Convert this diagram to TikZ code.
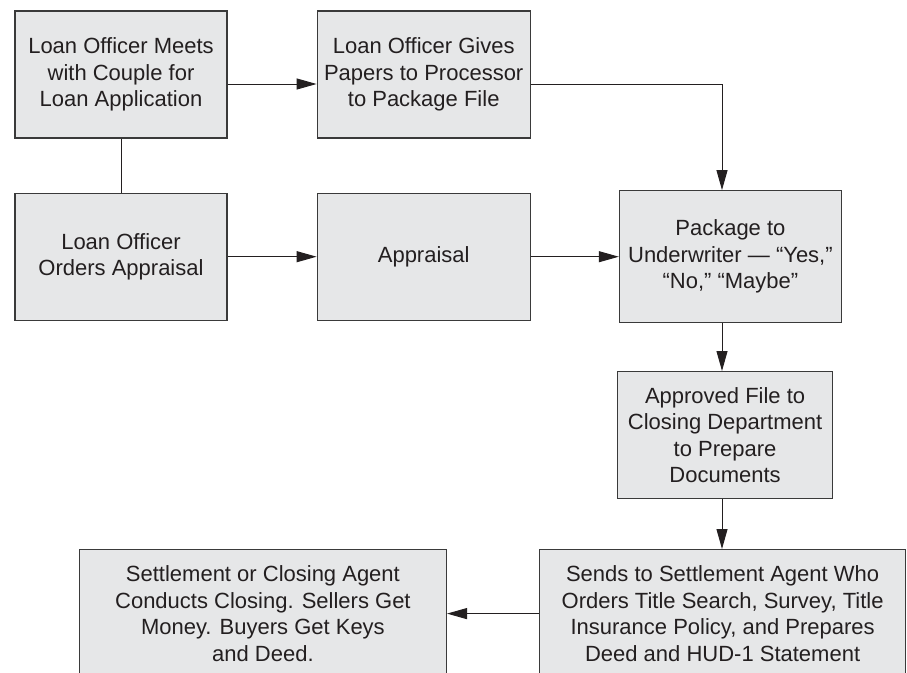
\documentclass[tikz,border=0pt]{standalone}
\usepackage{fontspec}
\setmainfont{Liberation Sans}
\usetikzlibrary{arrows.meta, positioning}
\definecolor{boxfill}{HTML}{E6E7E8}
\definecolor{boxline}{HTML}{3A3A3A}
\definecolor{ink}{HTML}{231F20}

\begin{document}
\begin{tikzpicture}[
			x=1pt, y=-1pt,
			>={Triangle[length=20pt, width=11pt]},
			stage/.style={draw=boxline, fill=boxfill, line width=1.2pt, minimum width=212pt, minimum height=127pt, inner sep=0pt, align=center, text=ink, font=\fontsize{22}{26.5}\selectfont},
			flow/.style={draw=ink, line width=1pt}
			]
			\useasboundingbox (0,0) rectangle (907,672);
			% --- Definicja bloków ---
			\node[stage] (meet) at (121,74.5) {Loan Officer Meets\\with Couple for\\Loan Application};
			\node[stage, minimum width=213pt, right=89pt of meet] (gives) {Loan Officer Gives\\Papers to Processor\\to Package File};
			\node[stage, below=54pt of meet] (orders) {Loan Officer\\Orders Appraisal};
			\node[stage, minimum width=213pt, below=54pt of gives] (appraisal) {Appraisal};
			\node[stage, minimum width=222pt, minimum height=132pt, right=88pt of appraisal] (underwriter) {Package to\\Underwriter — “Yes,”\\“No,” “Maybe”};
			\node[stage, minimum width=215pt, anchor=north west] (approved) at (617,371) {Approved File to\\Closing Department\\to Prepare\\Documents};
			\node[stage, minimum width=366pt, minimum height=128pt, anchor=north west] (sends) at (539,549) {Sends to Settlement Agent Who\\Orders Title Search, Survey, Title\\Insurance Policy, and Prepares\\Deed and HUD-1 Statement};
			\node[stage, minimum width=367pt, minimum height=128pt, left=92pt of sends] (closing) {Settlement or Closing Agent\\Conducts Closing. Sellers Get\\Money. Buyers Get Keys\\and Deed.};
			\coordinate (col) at (722,0); % pionowa oś strzałek
			
			% --- Strzałki ---
			\draw[flow, ->] ([yshift=-9.5pt]meet.east) -- ([yshift=-9.5pt]gives.west);
			\draw[flow, ->] ([yshift=-9.5pt]gives.east) -| (underwriter.north -| col);
			\draw[flow] (meet) -- (orders);
			\draw[flow, ->] (orders) -- (appraisal);
			\draw[flow, ->] (appraisal) -- (underwriter);
			\draw[flow, ->] (underwriter.south -| col) -- (approved.north -| col);
			\draw[flow, ->] (approved.south -| col) -- (sends.north -| col);
			\draw[flow, ->] (sends) -- (closing);
		\end{tikzpicture}
\end{document}
